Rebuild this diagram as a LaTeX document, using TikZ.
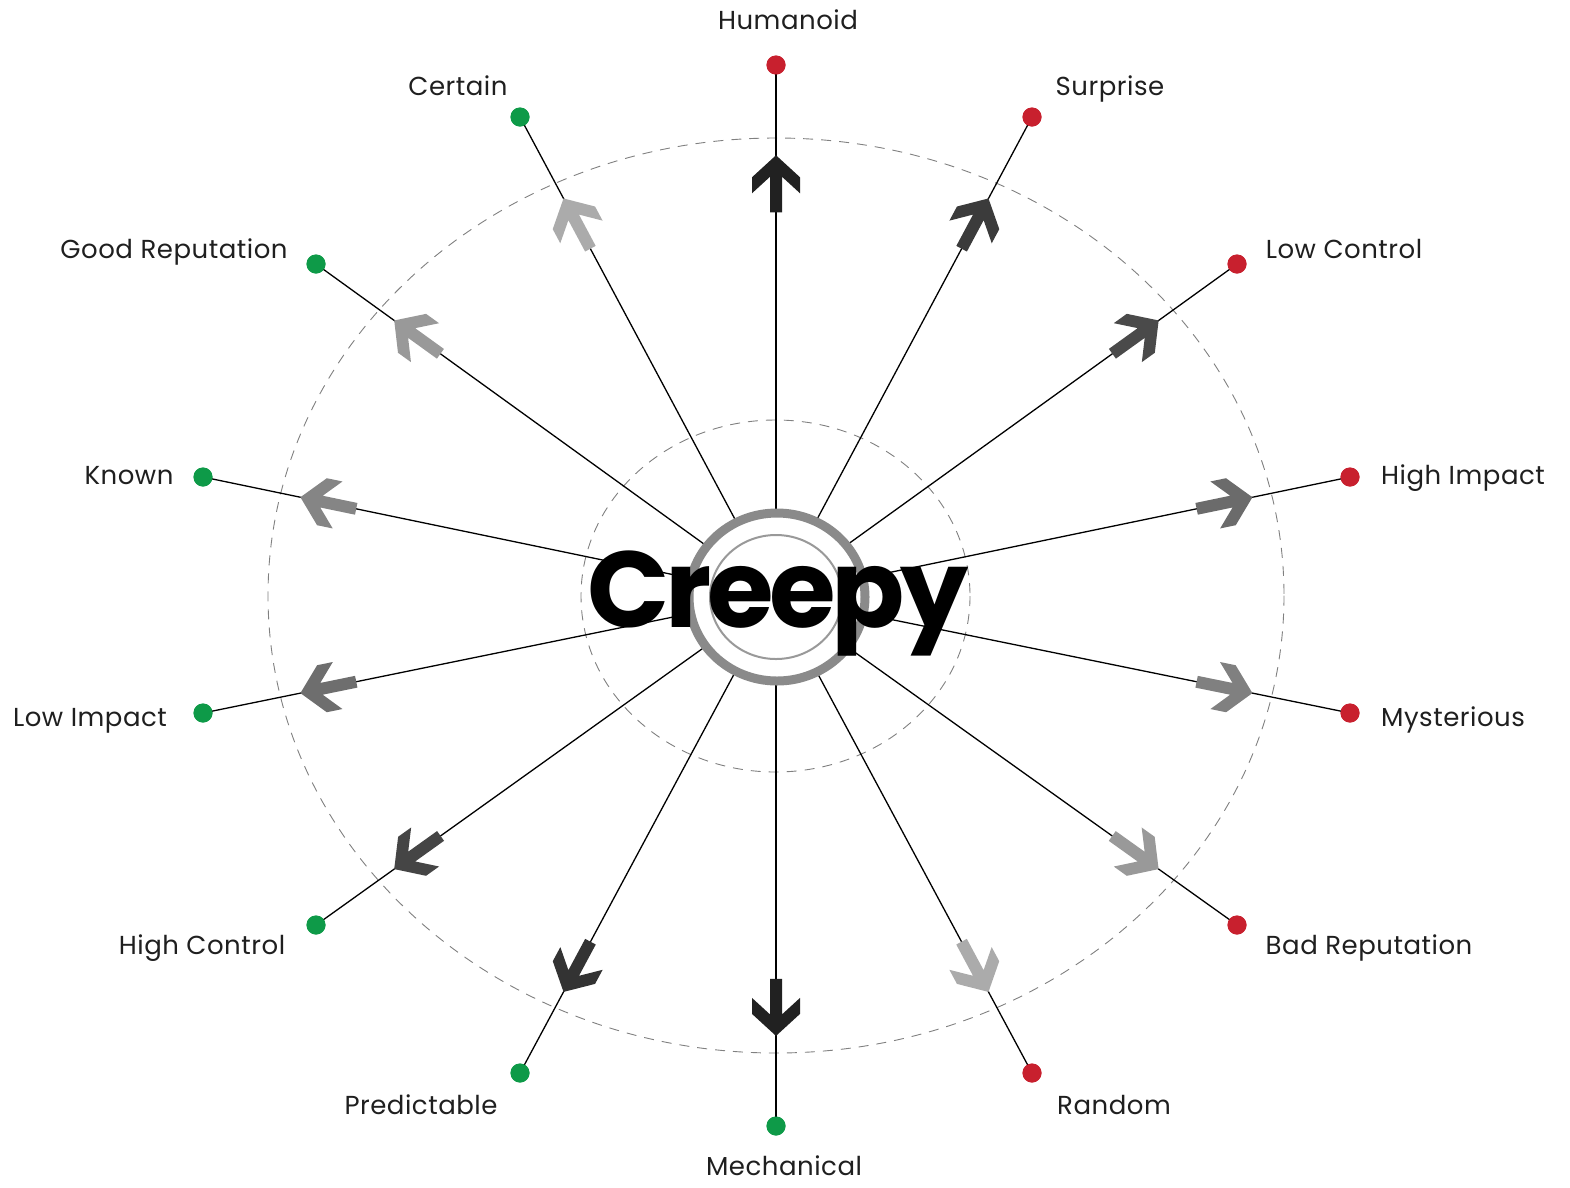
\documentclass[tikz,border=0pt]{standalone}
\usepackage{fontspec}
\setmainfont{Poppins}
\newfontfamily\creepyfont[LetterSpace=-4]{Poppins}
\newfontfamily\labelfont[LetterSpace=2]{Poppins}
\usetikzlibrary{calc}
\definecolor{dred}{HTML}{C8202E}
\definecolor{dgreen}{HTML}{0E9A48}
\tikzset{
  spoke/.style={line width=1.3pt, black},
  dotr/.style={circle, inner sep=0pt, minimum size=19pt, fill=dred},
  dotg/.style={circle, inner sep=0pt, minimum size=19pt, fill=dgreen},
  lbl/.style={font=\labelfont\fontsize{26}{26}\selectfont, text=black!88, anchor=base, inner sep=0pt},
  guide/.style={draw=black!50, line width=0.9pt, dash pattern=on 10pt off 8pt},
}
\newcommand\chevron[2]{%
  \pgfmathanglebetweenpoints{\pgfpointanchor{c}{center}}{\pgfpointanchor{#1}{center}}%
  \let\chang\pgfmathresult
  \begin{scope}[shift={($(c)!0.83!(#1)$)}, rotate=\chang+180]
    \fill[#2] (0,0) -- (22,24) -- (38,24) -- (21.5,6) -- (57,6) -- (57,-6) -- (21.5,-6) -- (38,-24) -- (22,-24) -- cycle;
  \end{scope}%
}
\begin{document}
\begin{tikzpicture}[x=1pt,y=-1pt]
\useasboundingbox (0,0) rectangle (1570,1187);
\coordinate (c) at (776,596);
% dashed guides
\draw[guide] (776,595.5) ellipse [x radius=508, y radius=457.5];
\draw[guide] (775.5,596) ellipse [x radius=194.5, y radius=176];
% dots
\node[dotr] (d1) at (776,65) {};
\node[dotr] (d2) at (1032,117) {};
\node[dotr] (d3) at (1237,264) {};
\node[dotr] (d4) at (1350,477) {};
\node[dotr] (d5) at (1350,713) {};
\node[dotr] (d6) at (1237,925) {};
\node[dotr] (d7) at (1032,1073) {};
\node[dotg] (d8) at (776,1126) {};
\node[dotg] (d9) at (520,1073) {};
\node[dotg] (d10) at (316,925) {};
\node[dotg] (d11) at (203,713) {};
\node[dotg] (d12) at (203,477) {};
\node[dotg] (d13) at (316,264) {};
\node[dotg] (d14) at (520,117) {};
% spokes
\foreach \i in {1,...,14} \draw[spoke] (c) -- (d\i.center);
% chevrons
\chevron{d1}{black!87}
\chevron{d2}{black!77}
\chevron{d3}{black!71}
\chevron{d4}{black!58}
\chevron{d5}{black!50}
\chevron{d6}{black!40}
\chevron{d7}{black!33}
\chevron{d8}{black!87}
\chevron{d9}{black!80}
\chevron{d10}{black!73}
\chevron{d11}{black!57}
\chevron{d12}{black!48}
\chevron{d13}{black!40}
\chevron{d14}{black!33}
% redraw dots on top
\foreach \i in {1,...,7} \fill[dred] (d\i) circle[radius=9.5];
\foreach \i in {8,...,14} \fill[dgreen] (d\i) circle[radius=9.5];
% center ring
\fill[white] (777,597) ellipse [x radius=88, y radius=84];
\draw[draw=black!46, line width=9pt] (777,597) ellipse [x radius=88, y radius=84];
\draw[draw=black!40, line width=2pt] (776,597) ellipse [x radius=66, y radius=62];
\node[font=\creepyfont\bfseries\fontsize{108}{108}\selectfont, anchor=base, inner sep=0pt] (creepy) at (778,627) {Creepy};
% labels
\node[lbl] (l1) at (788,29) {Humanoid};
\node[lbl] (l2) at (1110,95) {Surprise};
\node[lbl] (l3) at (1344,258) {Low Control};
\node[lbl] (l4) at (1463,484) {High Impact};
\node[lbl] (l5) at (1453,726) {Mysterious};
\node[lbl] (l6) at (1369,954) {Bad Reputation};
\node[lbl] (l7) at (1114,1114) {Random};
\node[lbl] (l8) at (784,1175) {Mechanical};
\node[lbl] (l9) at (421,1114) {Predictable};
\node[lbl] (l10) at (202,954) {High Control};
\node[lbl] (l11) at (90,726) {Low Impact};
\node[lbl] (l12) at (129,484) {Known};
\node[lbl] (l13) at (174,258) {Good Reputation};
\node[lbl] (l14) at (458,95) {Certain};
\end{tikzpicture}
\end{document}
